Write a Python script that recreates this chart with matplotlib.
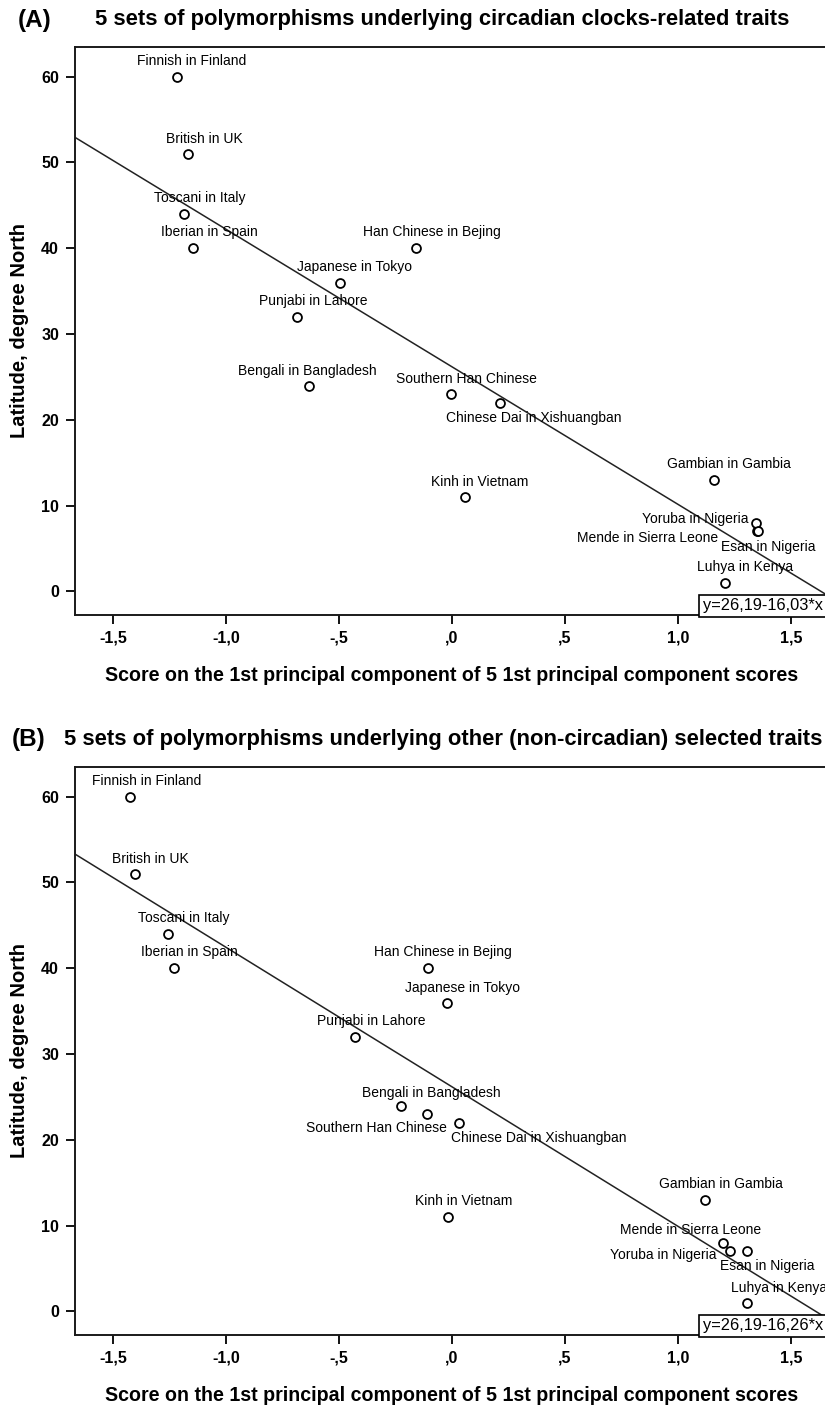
import matplotlib
matplotlib.use("Agg")
import matplotlib.pyplot as plt

plt.rcParams["font.family"] = ["Liberation Sans", "DejaVu Sans"]

# ---------------- data ----------------
populations = [
    "Finnish in Finland", "British in UK", "Toscani in Italy", "Iberian in Spain",
    "Han Chinese in Bejing", "Japanese in Tokyo", "Punjabi in Lahore",
    "Bengali in Bangladesh", "Southern Han Chinese", "Chinese Dai in Xishuangban",
    "Kinh in Vietnam", "Gambian in Gambia", "Yoruba in Nigeria",
    "Mende in Sierra Leone", "Esan in Nigeria", "Luhya in Kenya",
]
latitude = [60, 51, 44, 40, 40, 36, 32, 24, 23, 22, 11, 13, 7, 8, 7, 1]

# panel A: circadian clocks-related traits
score_a = [-1.217, -1.168, -1.186, -1.146, -0.161, -0.497, -0.685, -0.631,
           -0.004, 0.211, 0.058, 1.159, 1.350, 1.345, 1.353, 1.208]
intercept_a, slope_a = 26.19, -16.03
equation_a = "y=26,19-16,03*x"

# panel B: other (non-circadian) selected traits
score_b = [-1.423, -1.404, -1.257, -1.230, -0.105, -0.021, -0.429, -0.226,
           -0.111, 0.032, -0.018, 1.119, 1.230, 1.198, 1.304, 1.304]
intercept_b, slope_b = 26.19, -16.26
equation_b = "y=26,19-16,26*x"

xtick_values = [-1.5, -1.0, -0.5, 0.0, 0.5, 1.0, 1.5]
xtick_labels = ["-1,5", "-1,0", "-,5", ",0", ",5", "1,0", "1,5"]
ytick_values = [0, 10, 20, 30, 40, 50, 60]

title_a = "5 sets of polymorphisms underlying circadian clocks-related traits"
title_b = "5 sets of polymorphisms underlying other (non-circadian) selected traits"
xlabel = "Score on the 1st principal component of 5 1st principal component scores"
ylabel = "Latitude, degree North"

# ---------------- layout (label offsets in pixels: dx right, dy down) ----------------
offsets_a = [(15, -16), (16.5, -15), (15.7, -16), (16, -16), (16, -16), (14.7, -16),
             (15.7, -16), (-2, -15), (15.3, -15), (34, 15), (14.8, -15), (15.5, -16.4),
             (-61.7, -12.4), (-108.5, 15), (11, 15.6), (20, -16)]
offsets_b = [(16.4, -15.6), (16, -15), (16, -16), (15, -16), (15, -16), (15, -15),
             (16, -16), (30.5, -12.7), (-50.7, 13.6), (79.7, 15), (16, -16), (16, -15.7),
             (-67, 4), (-32.4, -13.3), (21, 14.3), (32, -15)]

W, H = 825, 1408
AX_LEFT, AX_RIGHT = 75, 830          # axes extends past the right image edge
XLIM = (-1.668, 1.673)
YLIM = (-2.74, 63.46)

fig = plt.figure(figsize=(W / 100, H / 100), dpi=100)
fig.patch.set_facecolor("white")


def make_panel(top_px, letter, letter_x, title, title_x, scores, offsets,
               intercept, slope, equation):
    ax = fig.add_axes([AX_LEFT / W, 1 - (top_px + 568) / H,
                       (AX_RIGHT - AX_LEFT) / W, 568 / H])
    ax.set_xlim(*XLIM)
    ax.set_ylim(*YLIM)

    # regression line
    xs = list(XLIM)
    ax.plot(xs, [intercept + slope * v for v in xs], color="#222222", lw=1.1, zorder=2)

    # points
    ax.plot(scores, latitude, linestyle="none", marker="o", markersize=6.4,
            markerfacecolor="white", markeredgecolor="black", markeredgewidth=1.3,
            zorder=3)

    for name, x, y, (dx, dy) in zip(populations, scores, latitude, offsets):
        ax.annotate(name, (x, y), xytext=(dx * 0.72, -dy * 0.72),
                    textcoords="offset points", ha="center", va="center",
                    fontsize=10, color="black", zorder=4, annotation_clip=False)

    # equation box
    ax.text((703 - AX_LEFT) / (AX_RIGHT - AX_LEFT), 0.003, equation,
            transform=ax.transAxes, ha="left", va="bottom",
            fontsize=11.8, color="black", zorder=5, clip_on=False,
            bbox=dict(boxstyle="square,pad=0.22", facecolor="white",
                      edgecolor="black", linewidth=1.2))

    ax.set_xticks(xtick_values)
    ax.set_xticklabels(xtick_labels)
    ax.set_yticks(ytick_values)
    ax.tick_params(axis="both", which="major", direction="out", length=6.5, width=1.3,
                   labelsize=11.5, pad=5, colors="black")
    ax.tick_params(top=False, right=False)
    for lbl in ax.get_xticklabels() + ax.get_yticklabels():
        lbl.set_fontweight("bold")
    for sp in ax.spines.values():
        sp.set_linewidth(1.4)
        sp.set_color("#1a1a1a")

    ax.set_xlabel(xlabel, fontsize=14.1, fontweight="bold", labelpad=11)
    ax.xaxis.set_label_coords((452 - AX_LEFT) / (AX_RIGHT - AX_LEFT), -0.09)
    ax.set_ylabel(ylabel, fontsize=14.5, fontweight="bold", labelpad=9)

    ty = 1 - (top_px - 27) / H
    fig.text(letter_x / W, ty, letter, fontsize=17.5, fontweight="bold",
             ha="left", va="center")
    fig.text(title_x / W, ty, title, fontsize=15.8, fontweight="bold",
             ha="left", va="center")
    return ax


make_panel(47, "(A)", 18, title_a, 95, score_a, offsets_a,
           intercept_a, slope_a, equation_a)
make_panel(767, "(B)", 12, title_b, 64, score_b, offsets_b,
           intercept_b, slope_b, equation_b)

fig.savefig("out.png", dpi=100, facecolor="white")
